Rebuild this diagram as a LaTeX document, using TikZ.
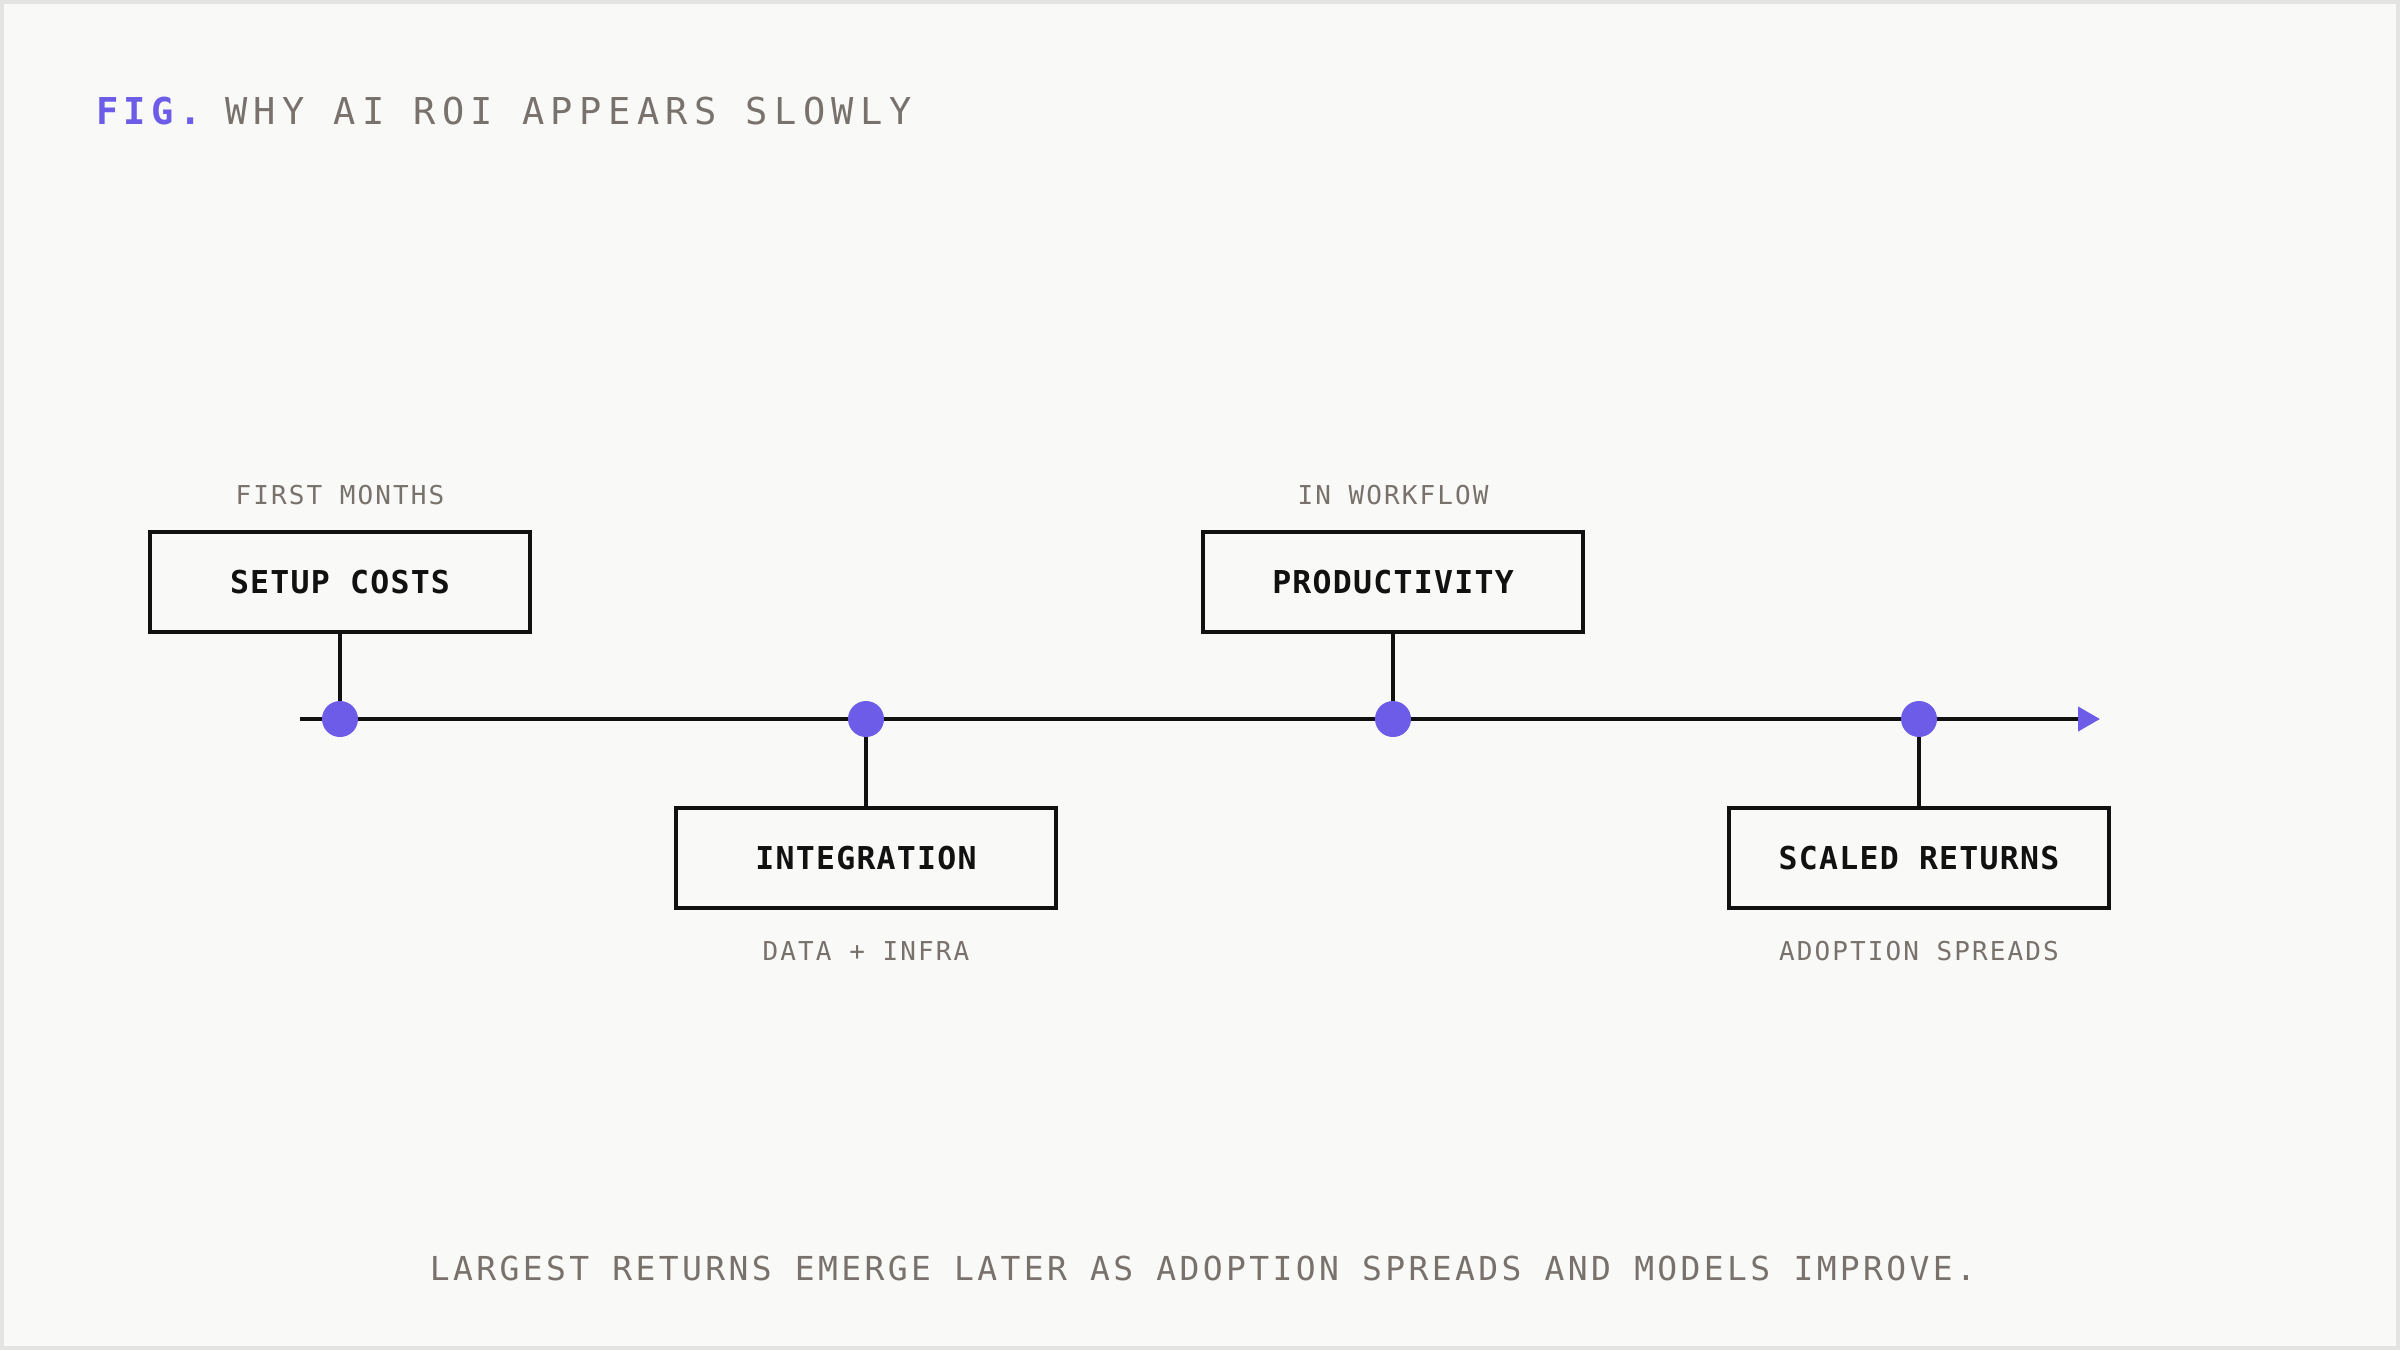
\documentclass[tikz,border=0pt]{standalone}
\usepackage{fontspec}
\usetikzlibrary{arrows.meta}
\newfontfamily\plex{DejaVu Sans Mono}
\definecolor{bgc}{HTML}{F9F9F7}
\definecolor{framec}{HTML}{E4E4E2}
\definecolor{ink}{HTML}{111111}
\definecolor{accent}{HTML}{6C5CE7}
\definecolor{graytext}{HTML}{78716C}
\newcommand{\titlefont}{\plex\addfontfeatures{LetterSpace=17.5}\fontsize{37}{44}\selectfont}
\newcommand{\boxfont}{\plex\bfseries\addfontfeatures{LetterSpace=4}\fontsize{31.5}{38}\selectfont}
\newcommand{\labfont}{\plex\addfontfeatures{LetterSpace=8}\fontsize{26}{32}\selectfont}
\newcommand{\footfont}{\plex\addfontfeatures{LetterSpace=10.2}\fontsize{33}{40}\selectfont}
\pgfdeclarelayer{back}
\pgfdeclarelayer{lines}
\pgfsetlayers{back,lines,main}
\begin{document}
\begin{tikzpicture}[x=1pt,y=-1pt,
  stepbox/.style={draw=ink, line width=4.5pt, fill=bgc, minimum width=380pt, minimum height=100pt, inner sep=0pt, font=\boxfont, text=ink},
  dot/.style={circle, fill=accent, minimum size=36pt, inner sep=0pt},
  lab/.style={font=\labfont, text=graytext, inner sep=0pt, anchor=base},
  conn/.style={draw=ink, line width=4.2pt}]
\begin{pgfonlayer}{back}
\fill[bgc] (0,0) rectangle (2400,1350);
\draw[framec,line width=4pt] (2,2) rectangle (2398,1348);
\end{pgfonlayer}
\useasboundingbox (0,0) rectangle (2400,1350);

% title
\node[anchor=base west, inner sep=0pt, font=\plex\bfseries\addfontfeatures{LetterSpace=15}\fontsize{37}{44}\selectfont, text=accent] (fig) at (96,124) {FIG.};
\node[anchor=base west, inner sep=0pt, font=\titlefont, text=graytext] (title) at (225,124) {WHY AI ROI APPEARS SLOWLY};

% axis ends
\coordinate (start) at (300,719);
\coordinate (end) at (2100,719);

% dots
\node[dot] (d1) at (340,719) {};
\node[dot] (d2) at (866,719) {};
\node[dot] (d3) at (1393,719) {};
\node[dot] (d4) at (1919,719) {};

% boxes
\node[stepbox] (b1) at (340,582) {SETUP COSTS};
\node[stepbox] (b2) at (866,858) {INTEGRATION};
\node[stepbox] (b3) at (1393,582) {PRODUCTIVITY};
\node[stepbox] (b4) at (1919,858) {SCALED RETURNS};

% labels
\node[lab] (l1) at (340,504) {FIRST MONTHS};
\node[lab] (l2) at (866,960) {DATA + INFRA};
\node[lab] (l3) at (1393,504) {IN WORKFLOW};
\node[lab] (l4) at (1919,960) {ADOPTION SPREADS};

% footer
\node[anchor=base, inner sep=0pt, font=\footfont, text=graytext] (foot) at (1203,1280) {LARGEST RETURNS EMERGE LATER AS ADOPTION SPREADS AND MODELS IMPROVE.};

\begin{pgfonlayer}{lines}
\draw[conn, -{Triangle[length=22pt,width=24pt,color=accent]}] (start) -- (end);
\draw[conn] (b1.south) -- (d1.center);
\draw[conn] (b2.north) -- (d2.center);
\draw[conn] (b3.south) -- (d3.center);
\draw[conn] (b4.north) -- (d4.center);
\end{pgfonlayer}
\end{tikzpicture}
\end{document}
